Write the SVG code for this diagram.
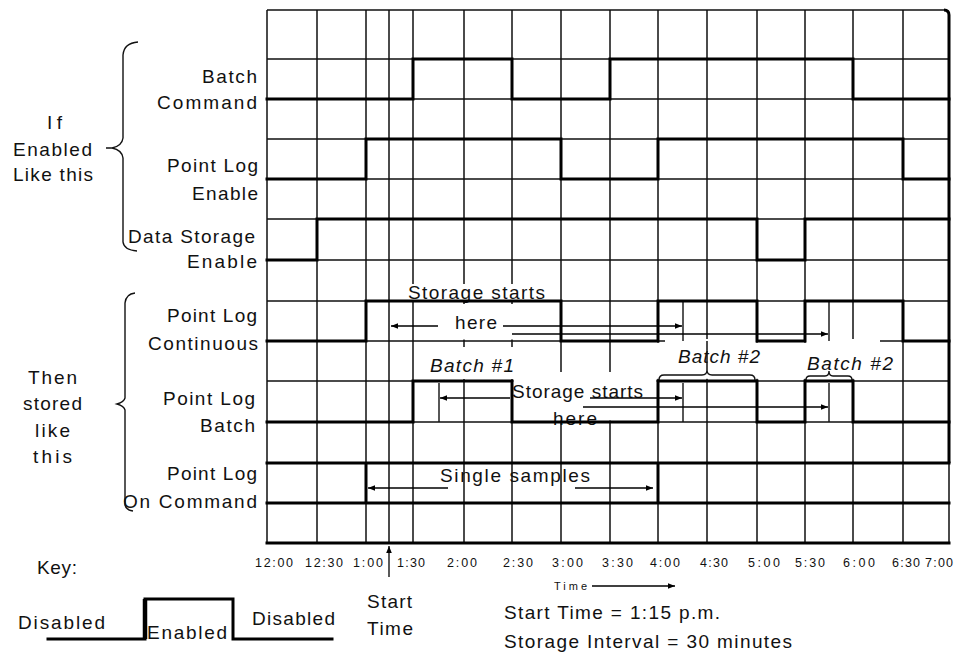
<svg xmlns="http://www.w3.org/2000/svg" width="962" height="652" viewBox="0 0 962 652">
<style>
text{font-family:"Liberation Sans",Arial,sans-serif;font-size:19px;fill:#111}
.it{font-style:italic}
.ax{font-size:12.5px}
.sm{font-size:11px}
.grid{stroke:#111;stroke-width:1.5;fill:none}
.sig{stroke:#000;stroke-width:3;fill:none;stroke-linecap:square}
.thin{stroke:#111;stroke-width:1.4;fill:none}
.arr{stroke:#000;stroke-width:1.3;fill:none;marker-end:url(#ah)}
.box{fill:#fff;stroke:none}
</style>
<defs>
<marker id="ah" viewBox="0 0 10 10" refX="10" refY="5" markerWidth="9" markerHeight="7" markerUnits="userSpaceOnUse" orient="auto"><path d="M0,1 L10,5 L0,9 z" fill="#000"/></marker>
</defs>
<rect width="962" height="652" fill="#fff"/>
<g id="grid">
<path class="grid" d="M267,10V543M317,10V543M366,10V543M389,10V543M413,10V543M464,10V543M512,10V543M561,10V543M610,10V543M658,10V543M707,10V543M757,10V543M805,10V543M853,10V543M903,10V543M949,463V543"/>
<path class="grid" d="M267,10H945M267,59H949M267,99H949M267,139H949M267,179H949M267,219H949M267,260H949M267,301H949M267,341H949M267,381H949M267,422H949M267,463H949M267,503H949"/>
<path class="sig" d="M267,543H949"/>
<path d="M944,10Q949,10 949,15V463" stroke="#000" stroke-width="3" fill="none"/>
</g>
<g id="annotation-boxes">
<rect class="box" x="406" y="284" width="144" height="16"/>
<rect class="box" x="415" y="304" width="142" height="35.5"/>
<rect class="box" x="427" y="347" width="87" height="32"/>
<rect class="box" x="513.5" y="372" width="143" height="48.5"/>
<rect class="box" x="656.5" y="342.8" width="101.5" height="36"/>
<rect class="box" x="665" y="339" width="91" height="4"/>
<rect class="box" x="804" y="342.8" width="95" height="36"/>
<rect class="box" x="806" y="339" width="74" height="4"/>
<path class="grid" d="M707,341V370"/>
</g>
<g id="annotation-labels">
<text x="408" y="299" textLength="137">Storage starts</text>
<text x="455" y="329" textLength="42">here</text>
<text class="it" x="430" y="372" textLength="84">Batch #1</text>
<text x="512" y="398" textLength="131">Storage starts</text>
<text x="553" y="425" textLength="44">here</text>
<text class="it" x="678" y="363" textLength="82">Batch #2</text>
<text class="it" x="807" y="370" textLength="86">Batch #2</text>
<text x="440" y="482" textLength="150">Single samples</text>
<path class="thin" d="M659,380Q659,375 664,375H702Q707,375 707,370Q707,375 712,375H750Q755,375 755,380"/>
<path class="thin" d="M806,380Q806,376 810,376H825Q829,376 829,371Q829,376 833,376H848Q852,376 852,380"/>
<path class="thin" d="M439,383V422M683,302V341M683,383V422M829,302V341M829,383V422"/>
</g>
<g id="row-batch-command">
<text x="202" y="83" textLength="55">Batch</text>
<text x="157" y="109" textLength="100">Command</text>
<path class="sig" d="M267,99H413V59H512V99H610V59H853V99H949"/>
</g>
<g id="row-point-log-enable">
<text x="167" y="172" textLength="91">Point Log</text>
<text x="192" y="200" textLength="66">Enable</text>
<path class="sig" d="M267,179H366V139H561V179H658V139H903V179H949"/>
</g>
<g id="row-data-storage-enable">
<text x="128" y="243" textLength="127">Data Storage</text>
<text x="187" y="268" textLength="70">Enable</text>
<path class="sig" d="M267,260H317V219H757V260H805V219H949"/>
</g>
<g id="row-point-log-continuous">
<text x="167" y="322" textLength="90">Point Log</text>
<text x="148" y="350" textLength="110">Continuous</text>
<path class="sig" d="M267,341H366V301H561V341H658V301H757V341H805V301H903V341H949"/>
</g>
<g id="row-point-log-batch">
<text x="163" y="405" textLength="92">Point Log</text>
<text x="200" y="432" textLength="55">Batch</text>
<path class="sig" d="M267,422H413V381H512V422H658V381H757V422H805V381H853V422H949"/>
</g>
<g id="row-point-log-on-command">
<text x="167" y="480" textLength="90">Point Log</text>
<text x="123" y="508" textLength="134">On Command</text>
<path class="sig" d="M267,463H949M267,503H949M366,463V503M658,463V503"/>
</g>
<g id="brace-if-enabled">
<path class="thin" d="M138,42Q124,43 123,55V138Q122,146 112,148Q122,150 123,158V242Q124,250 137,251M106,148H112"/>
<text x="47" y="129" textLength="15">If</text>
<text x="13" y="156" textLength="79">Enabled</text>
<text x="13" y="181" textLength="80">Like this</text>
</g>
<g id="brace-then-stored">
<path class="thin" d="M135,293Q126,294 125,303V398Q124,402 117,404Q124,406 125,410V505Q126,510 133,511"/>
<text x="28" y="384" textLength="49">Then</text>
<text x="23" y="410" textLength="59">stored</text>
<text x="35" y="437" textLength="35">like</text>
<text x="33" y="463" textLength="39">this</text>
</g>
<g id="connectors">
<path class="arr" d="M438,326H391"/>
<path class="arr" d="M503,326H682"/>
<path class="arr" d="M512,334H828"/>
<path class="arr" d="M510,398H440"/>
<path class="arr" d="M590,398H682"/>
<path class="arr" d="M583,407H828"/>
<path class="arr" d="M448,488H368"/>
<path class="arr" d="M575,488H653"/>
<path class="arr" d="M389,577V546"/>
<path class="arr" d="M592,586H675"/>
</g>
<g id="axis">
<text class="ax" x="255" y="567" textLength="38">12:00</text>
<text class="ax" x="305" y="567" textLength="38">12:30</text>
<text class="ax" x="353" y="567" textLength="30">1:00</text>
<text class="ax" x="397" y="567" textLength="28">1:30</text>
<text class="ax" x="447" y="567" textLength="30">2:00</text>
<text class="ax" x="503" y="567" textLength="30">2:30</text>
<text class="ax" x="552" y="567" textLength="31">3:00</text>
<text class="ax" x="602" y="567" textLength="31">3:30</text>
<text class="ax" x="650" y="567" textLength="30">4:00</text>
<text class="ax" x="700" y="567" textLength="28">4:30</text>
<text class="ax" x="748" y="567" textLength="32">5:00</text>
<text class="ax" x="795" y="567" textLength="30">5:30</text>
<text class="ax" x="843" y="567" textLength="32">6:00</text>
<text class="ax" x="892" y="567" textLength="28">6:30</text>
<text class="ax" x="925" y="567" textLength="28">7:00</text>
<text class="sm" x="554" y="590" textLength="33">Time</text>
<text x="367" y="608" textLength="45">Start</text>
<text x="367" y="635" textLength="46">Time</text>
</g>
<g id="key">
<text x="37" y="574" textLength="40">Key:</text>
<path class="sig" d="M48,639H145V599H233V639H332"/>
<path d="M145,639V599" stroke="#000" stroke-width="4.5"/>
<text x="18" y="629" textLength="87">Disabled</text>
<text x="147" y="639" textLength="80">Enabled</text>
<text x="252" y="625" textLength="83">Disabled</text>
</g>
<g id="notes">
<text x="504" y="619" textLength="216">Start Time = 1:15 p.m.</text>
<text x="504" y="648" textLength="288">Storage Interval = 30 minutes</text>
</g>
</svg>
